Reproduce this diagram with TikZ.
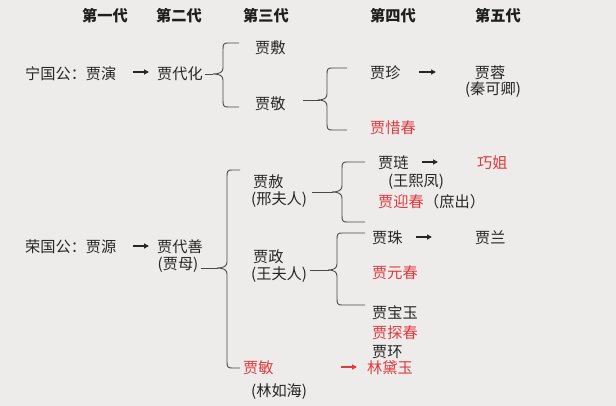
\documentclass[tikz,border=0pt]{standalone}
\usepackage{fontspec}
\setmainfont{Noto Sans CJK SC}
\usetikzlibrary{arrows.meta}
\definecolor{bgc}{HTML}{EDECEA}
\definecolor{txt}{HTML}{262626}
\definecolor{redc}{HTML}{E0393E}
\definecolor{linec}{HTML}{4A4A4A}
\newcommand\mybrace[6]{% tip x, vertical x, end x, top y, tip y, bottom y
  \draw[bracestyle] (#3,#4) -- (#2+5,#4) .. controls (#2+1,#4) and (#2,#4+1) .. (#2,#4+6)
    -- (#2,#5-6) .. controls (#2,#5-2) and (#2-3,#5) .. (#1,#5)
    .. controls (#2-3,#5) and (#2,#5+2) .. (#2,#5+6)
    -- (#2,#6-6) .. controls (#2,#6-1) and (#2+1,#6) .. (#2+5,#6) -- (#3,#6);}
\begin{document}
\begin{tikzpicture}[x=1pt,y=-1pt,
  every node/.style={inner sep=2pt,font=\fontsize{15.2}{17}\selectfont,text=txt},
  hdr/.style={font=\fontsize{15.2}{17}\selectfont\bfseries,text=black!88},
  nm/.style={anchor=west},
  rd/.style={anchor=west,text=redc},
  arr/.style={-{Triangle[length=5pt,width=5pt]},line width=1.4pt,draw=txt},
  bracestyle/.style={draw=linec,line width=0.9pt},
  stub/.style={draw=linec,line width=0.9pt}]
\fill[bgc] (0,0) rectangle (616,406);
\useasboundingbox (0,0) rectangle (616,406);
% headers
\node[hdr] (h1) at (105,16) {第一代};
\node[hdr] (h2) at (179,16) {第二代};
\node[hdr] (h3) at (266,16) {第三代};
\node[hdr] (h4) at (393,16) {第四代};
\node[hdr] (h5) at (498,16) {第五代};
% Ningguo
\node[nm] (ny) at (23,74) {宁国公：贾演};
\node[nm] (jdh) at (155,74) {贾代化};
\coordinate (a1s) at (133,72); \coordinate (a1e) at (149,72);
\draw[arr] (a1s) -- (a1e);
\node[nm] (jf) at (253,48) {贾敷};
\node[nm] (jj) at (253,104) {贾敬};
\coordinate (b1) at (213,74);
\draw[stub] (jdh.east) -- (b1);
\mybrace{213}{223}{239}{43}{74}{107}
\node[nm] (jz) at (368,73) {贾珍};
\coordinate (a2s) at (419,72); \coordinate (a2e) at (436,72);
\draw[arr] (a2s) -- (a2e);
\node (jr) at (490,73) {贾蓉};
\node (qkq) at (493,90) {(秦可卿)};
\node[rd] (jxc) at (368,128) {贾惜春};
\coordinate (b2) at (320,100);
\draw[stub] (303,100) -- (b2);
\mybrace{318}{327}{347}{68}{100}{130}
% Rongguo
\node[nm] (ry) at (23,247) {荣国公：贾源};
\coordinate (a3s) at (133,246); \coordinate (a3e) at (149,246);
\draw[arr] (a3s) -- (a3e);
\node[nm] (jds) at (155,247) {贾代善};
\node (jm) at (178,265) {(贾母)};
\coordinate (b3) at (218,268);
\draw[stub] (jm.east) ++(0,3) -- (b3);
\mybrace{217}{227}{240}{170}{268}{368}
\node[nm] (jsh) at (251,182) {贾赦};
\node[nm] (xfr) at (249,200) {(邢夫人)};
\coordinate (b4) at (333,192);
\draw[stub] (xfr.east) ++(3,-8) -- (b4);
\mybrace{332}{342}{365}{162}{192}{222}
\node[nm] (jl) at (376,163) {贾琏};
\coordinate (a4s) at (422,162); \coordinate (a4e) at (438,162);
\draw[arr] (a4s) -- (a4e);
\node[rd] (qj) at (475,163) {巧姐};
\node (wxf) at (416,182) {(王熙凤)};
\node[rd] (jyc) at (376,202) {贾迎春};
\node[nm,inner sep=0pt] (sc) at ([xshift=-2pt]jyc.east) {（庶出）};
\node[nm] (jzh) at (251,257) {贾政};
\node[nm] (wfr) at (249,275) {(王夫人)};
\coordinate (b5) at (329,270);
\draw[stub] (wfr.east) ++(1,-5) -- (b5);
\mybrace{328}{337}{365}{233}{270}{305}
\node[nm] (jzhu) at (370,238) {贾珠};
\coordinate (a5s) at (416,237); \coordinate (a5e) at (432,237);
\draw[arr] (a5s) -- (a5e);
\node[nm] (jlan) at (473,238) {贾兰};
\node[rd] (jyuc) at (370,273) {贾元春};
\node[nm] (jby) at (370,313) {贾宝玉};
\node[rd] (jtc) at (370,333) {贾探春};
\node[nm] (jh) at (370,352) {贾环};
\node[rd] (jmin) at (241,368) {贾敏};
\node[nm] (lrh) at (249,392) {(林如海)};
\coordinate (a6s) at (341,367); \coordinate (a6e) at (357,367);
\draw[arr,draw=redc] (a6s) -- (a6e);
\node[rd] (ldy) at (365,368) {林黛玉};
\end{tikzpicture}
\end{document}
